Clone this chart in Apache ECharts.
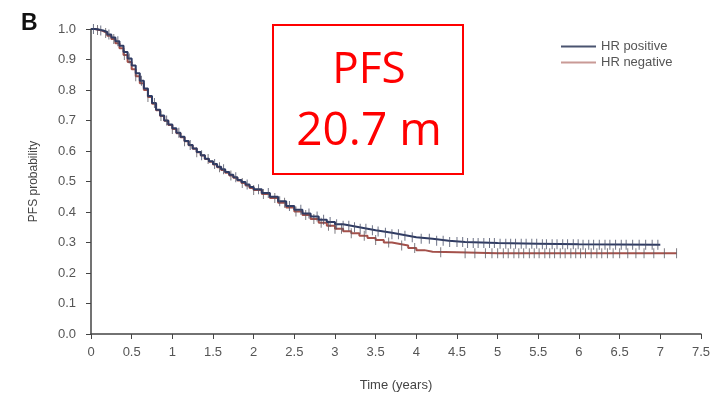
<!DOCTYPE html>
<html>
<head>
<meta charset="utf-8">
<script src="https://cdn.jsdelivr.net/npm/echarts@6/dist/echarts.min.js"></script>
<style>
  html, body { margin: 0; padding: 0; background: #fff; }
  #chart { width: 713px; height: 398px; }
</style>
</head>
<body>
<div id="chart"></div>
<script>
// KM step points (time in years, PFS probability)
const posTimes = [0, 0.05, 0.1, 0.15, 0.2, 0.25, 0.3, 0.35, 0.4, 0.45, 0.5, 0.55, 0.6, 0.65, 0.7, 0.75, 0.8, 0.85, 0.9, 0.95,
  1.0, 1.05, 1.1, 1.15, 1.2, 1.25, 1.3, 1.35, 1.4, 1.45, 1.5, 1.55, 1.6, 1.65, 1.7, 1.75, 1.8, 1.85, 1.9, 1.95,
  2.0, 2.1, 2.2, 2.3, 2.4, 2.5, 2.6, 2.7, 2.8, 2.9, 3.0, 3.1, 3.2, 3.3, 3.4, 3.5, 3.6, 3.7, 3.8, 3.9,
  4.0, 4.2, 4.4, 4.6, 5.0, 5.5, 6.0, 7.0];
const posProb = [1.0, 0.998, 0.995, 0.99, 0.982, 0.972, 0.96, 0.945, 0.925, 0.903, 0.88, 0.855, 0.83, 0.805, 0.78, 0.757, 0.735, 0.716, 0.70, 0.687,
  0.675, 0.66, 0.647, 0.633, 0.62, 0.608, 0.597, 0.586, 0.575, 0.566, 0.557, 0.548, 0.54, 0.531, 0.522, 0.514, 0.505, 0.498, 0.49, 0.482,
  0.475, 0.462, 0.45, 0.435, 0.42, 0.407, 0.395, 0.385, 0.375, 0.367, 0.36, 0.355, 0.35, 0.345, 0.34, 0.336, 0.332, 0.327, 0.322, 0.317,
  0.312, 0.306, 0.302, 0.298, 0.296, 0.294, 0.293, 0.293];

const negTimes = [0, 0.05, 0.1, 0.15, 0.2, 0.25, 0.3, 0.35, 0.4, 0.45, 0.5, 0.55, 0.6, 0.65, 0.7, 0.75, 0.8, 0.85, 0.9, 0.95,
  1.0, 1.05, 1.1, 1.15, 1.2, 1.25, 1.3, 1.35, 1.4, 1.45, 1.5, 1.55, 1.6, 1.65, 1.7, 1.75, 1.8, 1.85, 1.9, 1.95,
  2.0, 2.1, 2.2, 2.3, 2.4, 2.5, 2.6, 2.7, 2.8, 2.9, 3.0, 3.1, 3.2, 3.3, 3.4, 3.5, 3.6, 3.7, 3.8, 3.9,
  4.0, 4.1, 4.2, 4.5, 5.0, 6.0, 7.2];
const negProb = [1.0, 0.997, 0.993, 0.987, 0.978, 0.967, 0.953, 0.937, 0.915, 0.892, 0.868, 0.845, 0.822, 0.8, 0.777, 0.755, 0.734, 0.715, 0.699, 0.685,
  0.672, 0.658, 0.645, 0.632, 0.619, 0.607, 0.596, 0.585, 0.574, 0.565, 0.556, 0.547, 0.538, 0.529, 0.52, 0.512, 0.503, 0.495, 0.487, 0.479,
  0.472, 0.459, 0.446, 0.43, 0.415, 0.402, 0.39, 0.377, 0.365, 0.355, 0.345, 0.337, 0.33, 0.322, 0.315, 0.308, 0.30, 0.295, 0.29, 0.282,
  0.275, 0.27, 0.268, 0.265, 0.265, 0.265, 0.265];

// censor times (tick marks on the curves)
const posCensor = [0.03, 0.12, 0.22, 0.33, 0.47, 0.62, 0.78, 0.93, 1.08, 1.22, 1.36, 1.52, 1.63, 1.78, 1.92, 2.06, 2.18, 2.32, 2.44, 2.58,
  2.68, 2.78, 2.86, 2.94, 3.02, 3.1, 3.17, 3.24, 3.31, 3.38, 3.46, 3.53, 3.62, 3.7, 3.78, 3.86, 3.95, 4.06, 4.16, 4.25,
  4.33, 4.41, 4.5, 4.57, 4.63, 4.7, 4.76, 4.83, 4.9, 4.96, 5.03, 5.1, 5.16, 5.22, 5.29, 5.35, 5.42, 5.48, 5.55, 5.6,
  5.67, 5.73, 5.8, 5.86, 5.93, 5.99, 6.05, 6.12, 6.18, 6.25, 6.32, 6.38, 6.45, 6.52, 6.58, 6.66, 6.74, 6.82, 6.9, 6.97];
const negCensor = [0.08, 0.18, 0.28, 0.41, 0.55, 0.7, 0.86, 1.0, 1.15, 1.3, 1.44, 1.58, 1.72, 1.86, 2.0, 2.12, 2.26, 2.38, 2.52, 2.64,
  2.74, 2.83, 2.92, 3.0, 3.08, 3.2, 3.36, 3.5, 3.66, 3.82, 3.98, 4.3, 4.6, 4.72, 4.85, 4.93, 5.0, 5.07, 5.13, 5.2,
  5.26, 5.32, 5.39, 5.45, 5.51, 5.58, 5.64, 5.7, 5.77, 5.83, 5.9, 5.96, 6.02, 6.08, 6.15, 6.22, 6.28, 6.35, 6.42, 6.5,
  6.6, 6.7, 6.8, 6.92, 7.05, 7.2];

const xTicks = [0, 0.5, 1, 1.5, 2, 2.5, 3, 3.5, 4, 4.5, 5, 5.5, 6, 6.5, 7, 7.5];

const posColor = "#2f3b63";
const negColor = "#a4514b";

function stepAt(times, probs, t) {
  let p = probs[0];
  for (let i = 0; i < times.length; i++) {
    if (times[i] <= t) p = probs[i];
  }
  return p;
}

const chart = echarts.init(document.getElementById("chart"));
const option = {
  animation: false,
  textStyle: { fontFamily: "Liberation Sans, Arial, sans-serif" },
  grid: { left: 91, right: 9, top: 29, bottom: 64 },
  legend: {
    orient: "vertical",
    left: 556,
    top: 35,
    itemGap: 3,
    itemWidth: 35,
    itemHeight: 2,
    icon: "rect",
    textStyle: { color: "#555", fontSize: 13 },
    data: [
      { name: "HR positive", itemStyle: { color: "#4a5470" } },
      { name: "HR negative", itemStyle: { color: "#c99a96" } },
    ],
  },
  xAxis: {
    type: "value",
    min: 0,
    max: 7.5,
    interval: 0.5,
    name: "Time (years)",
    nameLocation: "middle",
    nameGap: 45,
    nameTextStyle: { color: "#444", fontSize: 13 },
    splitLine: { show: false },
    axisLine: { onZero: false, lineStyle: { color: "#444", width: 1.5 } },
    axisTick: { show: true, length: 5, lineStyle: { color: "#444" } },
    axisLabel: {
      color: "#555",
      fontSize: 13,
      margin: 12,
      showMaxLabel: true,
      formatter: (v) => (xTicks.includes(v) ? String(v) : ""),
    },
  },
  yAxis: {
    type: "value",
    min: 0,
    max: 1,
    interval: 0.1,
    name: "PFS probability",
    nameLocation: "middle",
    nameGap: 51,
    nameTextStyle: { color: "#444", fontSize: 12 },
    splitLine: { show: false },
    axisLine: { show: true, lineStyle: { color: "#444", width: 1.5 } },
    axisTick: { show: true, length: 5, lineStyle: { color: "#444" } },
    axisLabel: {
      color: "#555",
      fontSize: 13,
      margin: 15,
      formatter: (v) => v.toFixed(1),
    },
  },
  series: [
    {
      name: "HR negative",
      type: "line",
      step: "end",
      showSymbol: false,
      data: negTimes.map((t, i) => [t, negProb[i]]),
      lineStyle: { color: negColor, width: 2 },
      itemStyle: { color: negColor },
      z: 2,
    },
    {
      name: "HR negative censor",
      type: "scatter",
      symbol: "rect",
      symbolSize: [1, 10],
      data: negCensor.map((t) => [t, stepAt(negTimes, negProb, t)]),
      itemStyle: { color: "#5e5a62", opacity: 0.8 },
      silent: true,
      z: 2,
    },
    {
      name: "HR positive",
      type: "line",
      step: "end",
      showSymbol: false,
      data: posTimes.map((t, i) => [t, posProb[i]]),
      lineStyle: { color: posColor, width: 2 },
      itemStyle: { color: posColor },
      z: 3,
    },
    {
      name: "HR positive censor",
      type: "scatter",
      symbol: "rect",
      symbolSize: [1, 10],
      data: posCensor.map((t) => [t, stepAt(posTimes, posProb, t)]),
      itemStyle: { color: "#4a5068", opacity: 0.8 },
      silent: true,
      z: 3,
    },
  ],
  graphic: [
    {
      type: "text",
      left: 21,
      top: 12,
      style: { text: "B", font: "bold 23px Liberation Sans, Arial, sans-serif", fill: "#111" },
    },
    {
      type: "rect",
      shape: { x: 273, y: 25, width: 190, height: 149 },
      style: { fill: "#fff", stroke: "#ff0000", lineWidth: 2 },
      z: 10,
    },
    {
      type: "text",
      x: 369,
      y: 70,
      style: {
        text: "PFS",
        font: "44px Open Sans, Noto Sans, sans-serif",
        fill: "#ff0000",
        align: "center",
        verticalAlign: "middle",
      },
      z: 11,
    },
    {
      type: "text",
      x: 369,
      y: 132,
      style: {
        text: "20.7 m",
        font: "46px Open Sans, Noto Sans, sans-serif",
        fill: "#ff0000",
        align: "center",
        verticalAlign: "middle",
      },
      z: 11,
    },
  ],
};
chart.setOption(option);
</script>
</body>
</html>
